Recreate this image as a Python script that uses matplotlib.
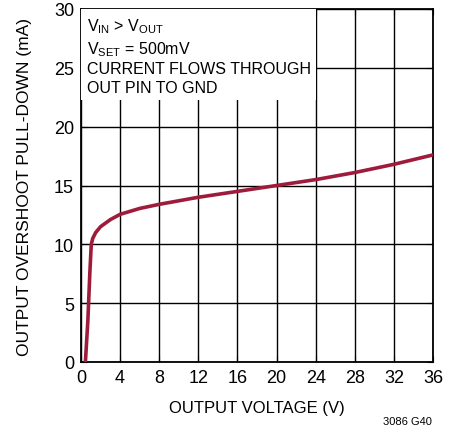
import matplotlib
matplotlib.use("Agg")
import matplotlib.pyplot as plt

plt.rcParams['font.family'] = ['Liberation Sans', 'DejaVu Sans']

# datos
voltaje = [0.45, 0.7, 0.9, 1.05, 1.2, 1.5, 2.0, 3.0, 4.0, 6.0, 8.0, 12.0, 16.0, 20.0, 24.0, 28.0, 32.0, 36.0]
corriente = [0.0, 3.5, 7.5, 10.0, 10.5, 11.0, 11.5, 12.1, 12.55, 13.05, 13.4, 14.0, 14.5, 15.0, 15.5, 16.1, 16.8, 17.6]

xticks = [0, 4, 8, 12, 16, 20, 24, 28, 32, 36]
yticks = [0, 5, 10, 15, 20, 25, 30]

fig = plt.figure(figsize=(4.56, 4.35), dpi=100)
ax = fig.add_axes([81/456, 72/435, 352/456, 353/435])

ax.plot(voltaje, corriente, color='#9e1b3c', lw=2.6, solid_capstyle='round', zorder=3)

ax.set_xlim(0, 36)
ax.set_ylim(0, 30)
ax.set_xticks(xticks)
ax.set_yticks(yticks)
ax.grid(True, color='black', lw=1.0)
ax.tick_params(direction='in', length=4, labelsize=13, pad=5, top=True, right=True)
for s in ax.spines.values():
    s.set_linewidth(1.3)

ax.set_xlabel("OUTPUT VOLTAGE (V)", fontsize=12, labelpad=10)
ax.set_ylabel("OUTPUT OVERSHOOT PULL-DOWN (mA)", fontsize=12.5, labelpad=16)

ax.text(0.6, 29.4,
        "V$_{\\mathregular{IN}}$ > V$_{\\mathregular{OUT}}$\n"
        "V$_{\\mathregular{SET}}$ = 500mV\n"
        "CURRENT FLOWS THROUGH\n"
        "OUT PIN TO GND",
        fontsize=11.5, va='top', ha='left', linespacing=1.3, zorder=4,
        bbox=dict(facecolor='white', edgecolor='none', pad=4))

fig.text(432/456, 8/435, "3086 G40", fontsize=8, ha='right', va='bottom')

plt.savefig("out.png", dpi=100)
plt.close()
